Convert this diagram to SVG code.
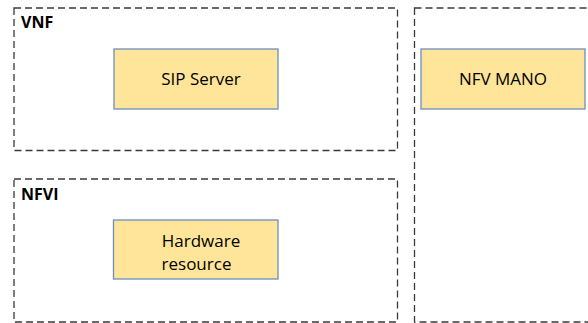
<svg xmlns="http://www.w3.org/2000/svg" width="588" height="323" viewBox="0 0 588 323">
  <style>
    .zone { fill: none; stroke: #3a3a3a; stroke-width: 1.3; stroke-dasharray: 7 4; }
    .node { fill: #FFE599; stroke: #6C8EBF; stroke-width: 1.3; }
    .zlabel { font-family: "Open Sans", "Liberation Sans", sans-serif; font-weight: bold; font-size: 16px; fill: #000; }
    .nlabel { font-family: "Open Sans", "Liberation Sans", sans-serif; font-size: 17px; fill: #000; text-anchor: middle; }
  </style>
  <rect width="588" height="323" fill="#ffffff"/>

  <g id="vnf">
    <rect class="zone" x="14" y="8" width="383.5" height="142.5"/>
    <text class="zlabel" x="21" y="28">VNF</text>
  </g>
  <g id="nfvi">
    <rect class="zone" x="14" y="179" width="383.5" height="143"/>
    <text class="zlabel" x="21" y="200">NFVI</text>
  </g>
  <g id="nfv-mano-zone">
    <rect class="zone" x="414.5" y="8" width="190" height="314"/>
  </g>

  <g id="sip-server">
    <rect class="node" x="114" y="49" width="164" height="60"/>
    <text class="nlabel" x="201" y="85">SIP Server</text>
  </g>
  <g id="nfv-mano">
    <rect class="node" x="421" y="49" width="164" height="60"/>
    <text class="nlabel" x="503" y="85">NFV MANO</text>
  </g>
  <g id="hardware-resource">
    <rect class="node" x="113.5" y="220" width="164.5" height="59"/>
    <text class="nlabel" x="201" y="247">Hardware</text>
    <text class="nlabel" x="196.5" y="270">resource</text>
  </g>

  <g id="connectors"></g>
</svg>
